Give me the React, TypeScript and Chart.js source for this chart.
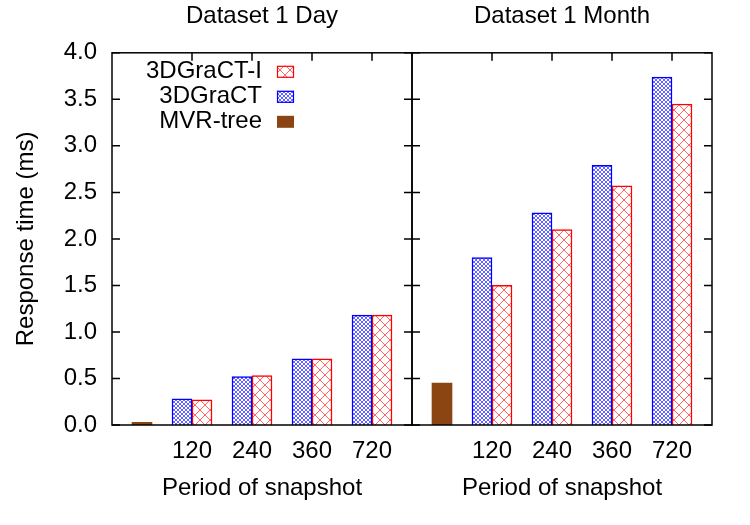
import { useEffect, useRef } from 'react';
import { Chart, registerables } from 'chart.js';

Chart.register(...registerables);

// Snapshot periods on the x axis (the MVR-tree bar sits in the unlabeled slot before them)
const periods = ['120', '240', '360', '720'];

// Response times (ms), "Dataset 1 Day"
const dayGraCT = [0.28, 0.52, 0.71, 1.18];
const dayGraCTI = [0.27, 0.53, 0.71, 1.18];
const dayMVR = 0.03;

// Response times (ms), "Dataset 1 Month"
const monthGraCT = [1.8, 2.28, 2.79, 3.74];
const monthGraCTI = [1.5, 2.1, 2.57, 3.45];
const monthMVR = 0.45;

const FONT = '"Liberation Sans", Arial, Helvetica, sans-serif';
const FONT_SIZE = 24;

Chart.defaults.font.family = FONT;
Chart.defaults.font.size = FONT_SIZE;
Chart.defaults.color = '#000';

function hatch(color: string, size: number, width: number): CanvasPattern {
  const c = document.createElement('canvas');
  c.width = size;
  c.height = size;
  const g = c.getContext('2d')!;
  g.fillStyle = '#fff';
  g.fillRect(0, 0, size, size);
  g.strokeStyle = color;
  g.lineWidth = width;
  g.beginPath();
  for (let k = -1; k <= 1; k++) {
    g.moveTo(k * size, 0);
    g.lineTo(k * size + size, size);
    g.moveTo(k * size + size, 0);
    g.lineTo(k * size, size);
  }
  g.stroke();
  return g.createPattern(c, 'repeat')!;
}

// Black frame around the plot with inward tick marks on every side
const framePlugin = {
  id: 'frame',
  beforeDatasetsDraw(chart: any) {
    const { left, right, top, bottom } = chart.chartArea;
    const ctx = chart.ctx;
    const len = 8;
    ctx.save();
    ctx.strokeStyle = '#000';
    ctx.lineWidth = 1.5;
    ctx.beginPath();
    for (const t of chart.scales.y.ticks) {
      const py = chart.scales.y.getPixelForValue(t.value);
      ctx.moveTo(left, py);
      ctx.lineTo(left + len, py);
      ctx.moveTo(right, py);
      ctx.lineTo(right - len, py);
    }
    for (const t of chart.scales.x.ticks) {
      const px = chart.scales.x.getPixelForValue(t.value);
      ctx.moveTo(px, top);
      ctx.lineTo(px, top + len);
      ctx.moveTo(px, bottom);
      ctx.lineTo(px, bottom - len);
    }
    ctx.stroke();
    ctx.restore();
  },
  afterDatasetsDraw(chart: any) {
    const { left, right, top, bottom } = chart.chartArea;
    const ctx = chart.ctx;
    ctx.save();
    ctx.strokeStyle = '#000';
    ctx.lineWidth = 1.5;
    ctx.strokeRect(left, top, right - left, bottom - top);
    ctx.restore();
  },
};

// Key in the upper-left corner: label text right-aligned, swatch to its right
const keyPlugin = {
  id: 'key',
  afterDraw(chart: any) {
    const { left, top } = chart.chartArea;
    const ctx = chart.ctx;
    const sets = [...chart.data.datasets].reverse();
    ctx.save();
    ctx.font = `${FONT_SIZE}px ${FONT}`;
    ctx.textAlign = 'right';
    ctx.textBaseline = 'middle';
    sets.forEach((ds: any, i: number) => {
      const cy = top + 19 + i * 25;
      ctx.fillStyle = '#000';
      ctx.fillText(ds.label, left + 150, cy);
      ctx.fillStyle = ds.backgroundColor;
      ctx.fillRect(left + 165, cy - 6, 17, 12);
      if (ds.borderWidth) {
        ctx.strokeStyle = ds.borderColor;
        ctx.lineWidth = 1.2;
        ctx.strokeRect(left + 165.5, cy - 5.5, 16, 11);
      }
    });
    ctx.restore();
  },
};

function buildChart(
  canvas: HTMLCanvasElement,
  title: string,
  gract: number[],
  gractI: number[],
  mvr: number,
  first: boolean,
) {
  const blue = hatch('rgba(0,0,255,0.6)', 4, 1);
  const red = hatch('rgba(255,0,0,0.6)', 10, 1);
  const datasets: any[] = [
    {
      label: 'MVR-tree',
      data: [{ x: 1 / 6, y: mvr }],
      backgroundColor: '#8b4513',
      borderWidth: 0,
    },
    {
      label: '3DGraCT',
      data: gract.map((v, i) => ({ x: i + 1 - 1 / 6, y: v })),
      backgroundColor: blue,
      borderColor: '#0000ff',
      borderWidth: 1.5,
    },
    {
      label: '3DGraCT-I',
      data: gractI.map((v, i) => ({ x: i + 1 + 1 / 6, y: v })),
      backgroundColor: red,
      borderColor: '#ff0000',
      borderWidth: 1.5,
    },
  ];
  return new Chart(canvas, {
    type: 'bar',
    data: { datasets },
    plugins: first ? [framePlugin, keyPlugin] : [framePlugin],
    options: {
      responsive: false,
      animation: false,
      devicePixelRatio: 1,
      events: [],
      layout: { padding: first ? { left: 0, right: 8, top: 0, bottom: 0 } : { left: 8, right: 38, top: 0, bottom: 0 } },
      datasets: { bar: { grouped: false, categoryPercentage: 1, barPercentage: 1 } },
      plugins: {
        legend: { display: false },
        tooltip: { enabled: false },
        title: {
          display: true,
          text: title,
          fullSize: false,
          color: '#000',
          font: { size: FONT_SIZE, weight: 'normal' },
          padding: { top: 2, bottom: 22 },
        },
      },
      scales: {
        x: {
          type: 'linear',
          offset: false,
          min: -1 / 3,
          max: 14 / 3,
          afterBuildTicks: (s: any) => {
            s.ticks = periods.map((_, i) => ({ value: i + 1 }));
          },
          ticks: {
            padding: 12,
            autoSkip: false,
            maxRotation: 0,
            callback: (v: any) => periods[Math.round(Number(v)) - 1] ?? '',
          },
          grid: { display: false, drawTicks: false, offset: false },
          border: { display: false },
          title: { display: true, text: 'Period of snapshot', padding: { top: 0, bottom: 22 } },
          afterFit: (s: any) => {
            s.height = 100;
          },
        },
        y: {
          type: 'linear',
          min: 0,
          max: 4,
          ticks: {
            display: first,
            stepSize: 0.5,
            padding: 15,
            callback: (v: any) => Number(v).toFixed(1),
          },
          grid: { display: false, drawTicks: false },
          border: { display: false },
          title: { display: first, text: 'Response time (ms)', padding: { top: 12, bottom: 0 } },
          afterFit: (s: any) => {
            s.width = first ? 112 : 0;
          },
        },
      },
    } as any,
  });
}

export default function App() {
  const dayRef = useRef<HTMLCanvasElement>(null);
  const monthRef = useRef<HTMLCanvasElement>(null);

  useEffect(() => {
    const a = buildChart(dayRef.current!, 'Dataset 1 Day', dayGraCT, dayGraCTI, dayMVR, true);
    const b = buildChart(monthRef.current!, 'Dataset 1 Month', monthGraCT, monthGraCTI, monthMVR, false);
    return () => {
      a.destroy();
      b.destroy();
    };
  }, []);

  return (
    <div style={{ position: 'fixed', left: 0, top: 0, width: 750, height: 525, background: '#fff' }}>
      <canvas
        ref={dayRef}
        width={420}
        height={525}
        style={{ position: 'absolute', left: 0, top: 0, width: 420, height: 525 }}
      />
      <canvas
        ref={monthRef}
        width={346}
        height={525}
        style={{ position: 'absolute', left: 404, top: 0, width: 346, height: 525 }}
      />
    </div>
  );
}
